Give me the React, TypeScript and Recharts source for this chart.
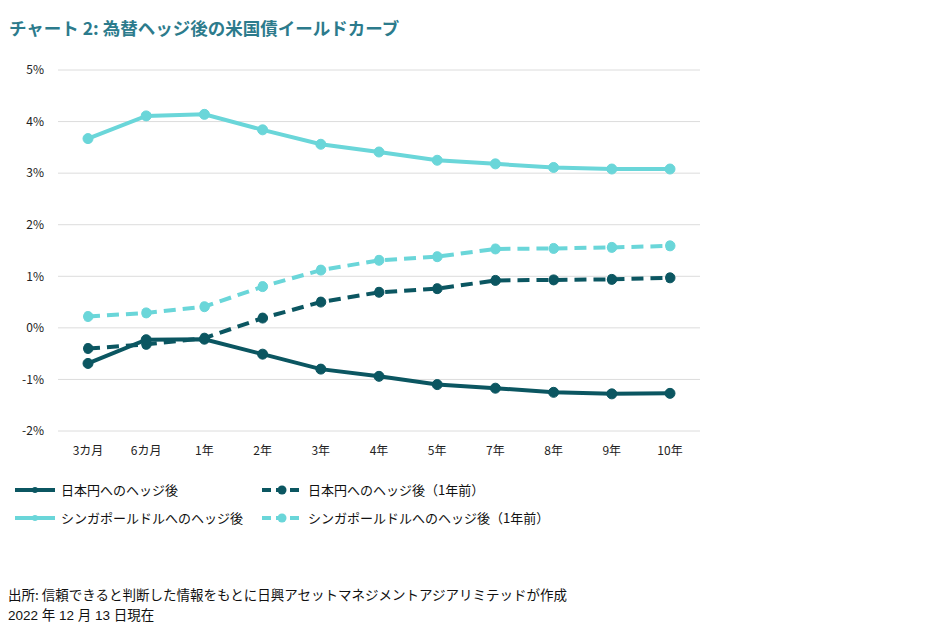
import { LineChart, Line, XAxis, YAxis, CartesianGrid } from 'recharts';

const categories = ['3カ月', '6カ月', '1年', '2年', '3年', '4年', '5年', '7年', '8年', '9年', '10年'];
const jpyHedged = [-0.69, -0.23, -0.22, -0.51, -0.8, -0.94, -1.1, -1.17, -1.25, -1.28, -1.27];
const jpyHedgedPrev = [-0.4, -0.32, -0.2, 0.19, 0.5, 0.69, 0.76, 0.92, 0.93, 0.94, 0.97];
const sgdHedged = [3.67, 4.11, 4.14, 3.84, 3.56, 3.41, 3.25, 3.18, 3.11, 3.08, 3.08];
const sgdHedgedPrev = [0.22, 0.29, 0.41, 0.8, 1.12, 1.31, 1.38, 1.53, 1.54, 1.56, 1.59];
const yTicks = [-2, -1, 0, 1, 2, 3, 4, 5];

const DARK = '#0b5661';
const LIGHT = '#6ad6d9';
const FONT = '"Noto Sans CJK JP", "Noto Sans", sans-serif';

const data = categories.map((name, i) => ({
  name,
  jpy: jpyHedged[i],
  jpyPrev: jpyHedgedPrev[i],
  sgd: sgdHedged[i],
  sgdPrev: sgdHedgedPrev[i],
}));

const legendItems = [
  { label: '日本円へのヘッジ後', color: DARK, dashed: false },
  { label: '日本円へのヘッジ後（1年前）', color: DARK, dashed: true },
  { label: 'シンガポールドルへのヘッジ後', color: LIGHT, dashed: false },
  { label: 'シンガポールドルへのヘッジ後（1年前）', color: LIGHT, dashed: true },
];

function LegendIcon({ color, dashed }: { color: string; dashed: boolean }) {
  return (
    <svg width={42} height={10} style={{ marginRight: 5 }}>
      <line
        x1={1}
        y1={5}
        x2={41}
        y2={5}
        stroke={color}
        strokeWidth={4}
        strokeDasharray={dashed ? '9 5' : undefined}
      />
      <circle cx={21} cy={5} r={dashed ? 4.5 : 3} fill={color} />
    </svg>
  );
}

export default function App() {
  return (
    <div
      style={{
        position: 'absolute',
        left: 0,
        top: 0,
        width: 936,
        height: 638,
        background: '#fff',
        fontFamily: FONT,
      }}
    >
      <div
        style={{
          position: 'absolute',
          left: 9,
          top: 15,
          fontSize: 17.5,
          fontWeight: 700,
          color: '#2c7b8c',
        }}
      >
        チャート 2: 為替ヘッジ後の米国債イールドカーブ
      </div>

      <div style={{ position: 'absolute', left: 0, top: 0 }}>
        <LineChart
          width={720}
          height={470}
          data={data}
          margin={{ top: 70, right: 20, left: 0, bottom: 9 }}
        >
          <CartesianGrid vertical={false} stroke="#dcdcdc" strokeWidth={1} />
          <XAxis
            dataKey="name"
            axisLine={false}
            tickLine={false}
            height={30}
            tickMargin={9}
            interval={0}
            padding={{ left: 30, right: 30 }}
            tick={{ fill: '#222', fontSize: 12, fontFamily: FONT }}
          />
          <YAxis
            width={58}
            domain={[-2, 5]}
            ticks={yTicks}
            axisLine={false}
            tickLine={false}
            tickMargin={8}
            tickFormatter={(v: number) => `${v}%`}
            tick={{ fill: '#222', fontSize: 12, fontFamily: FONT }}
          />
          <Line
            dataKey="sgdPrev"
            stroke={LIGHT}
            strokeWidth={4}
            strokeDasharray="12 7"
            dot={{ r: 5, fill: LIGHT, stroke: LIGHT, strokeWidth: 1 }}
            isAnimationActive={false}
          />
          <Line
            dataKey="jpyPrev"
            stroke={DARK}
            strokeWidth={4}
            strokeDasharray="12 7"
            dot={{ r: 5, fill: DARK, stroke: DARK, strokeWidth: 1 }}
            isAnimationActive={false}
          />
          <Line
            dataKey="sgd"
            stroke={LIGHT}
            strokeWidth={4}
            dot={{ r: 5, fill: LIGHT, stroke: LIGHT, strokeWidth: 1 }}
            isAnimationActive={false}
          />
          <Line
            dataKey="jpy"
            stroke={DARK}
            strokeWidth={4}
            dot={{ r: 5, fill: DARK, stroke: DARK, strokeWidth: 1 }}
            isAnimationActive={false}
          />
        </LineChart>
      </div>

      <div
        style={{
          position: 'absolute',
          left: 14,
          top: 480,
          width: 700,
          display: 'grid',
          gridTemplateColumns: '247px 400px',
          rowGap: 9,
          fontSize: 13,
          color: '#111',
        }}
      >
        {legendItems.map((item) => (
          <div key={item.label} style={{ display: 'flex', alignItems: 'center', height: 19 }}>
            <LegendIcon color={item.color} dashed={item.dashed} />
            <span>{item.label}</span>
          </div>
        ))}
      </div>

      <div
        style={{
          position: 'absolute',
          left: 8,
          top: 584,
          fontSize: 13.5,
          lineHeight: '21px',
          color: '#111',
        }}
      >
        <div>出所: 信頼できると判断した情報をもとに日興アセットマネジメントアジアリミテッドが作成</div>
        <div style={{ fontFamily: '"Liberation Sans", "Noto Sans CJK JP", sans-serif' }}>2022 年 12 月 13 日現在</div>
      </div>
    </div>
  );
}
